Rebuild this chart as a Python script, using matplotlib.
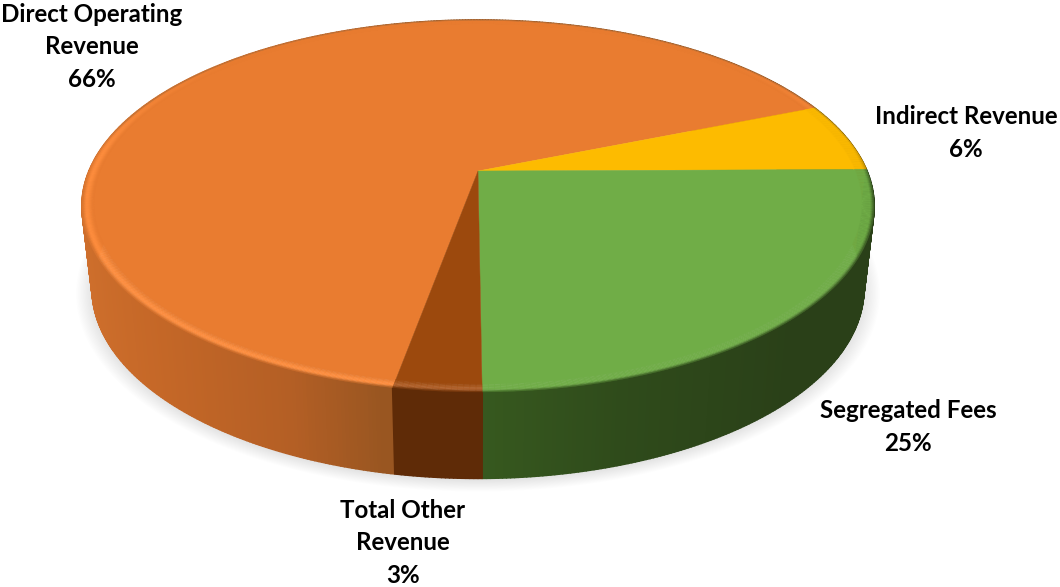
import numpy as np
import matplotlib
matplotlib.use("Agg")
import matplotlib.pyplot as plt
from matplotlib.collections import PolyCollection
from matplotlib.colors import to_rgb

names = ["Direct Operating\nRevenue", "Indirect Revenue", "Segregated Fees", "Total Other\nRevenue"]
shares = [66, 6, 25, 3]
top_colors = ["#E97C30", "#FDBB00", "#70AD47", "#9C490D"]
glow_colors = ["#FF8E3E", "#FDBB00", "#70AD47", "#B05F28"]

# clockwise from north, where the first slice begins
first_angle = 190.3
persp = 0.188
top_disc = dict(a=389.0, b=179.4, cx=478.0, cy=171.0)
low_disc = dict(a=379.0, b=183.0, cx=478.0, cy=253.0)


def project(X, Y, disc):
    w = 1 + persp * Y
    return disc["cx"] + disc["a"] * X / w, disc["cy"] - disc["b"] * Y / w


def circle_pts(theta, r, disc):
    t = np.radians(theta)
    return project(r * np.sin(t), r * np.cos(t), disc)


def mix(c1, c2, f):
    return tuple(np.array(to_rgb(c1)) * (1 - f) + np.array(to_rgb(c2)) * f)


def wall_color(i, X):
    if i == 0:
        stops = ["#D0702D", "#C46727", "#B45F25", "#995621"]
        pos = [-1.0, -0.7, -0.4, -0.2]
    elif i == 2:
        stops = ["#37591F", "#2F4B1B", "#2A4018", "#2A4018"]
        pos = [0.0, 0.3, 0.7, 1.0]
    elif i == 3:
        stops = ["#5F2B07", "#5F2B07"]
        pos = [-1.0, 1.0]
    else:
        stops = ["#8A6500", "#8A6500"]
        pos = [-1.0, 1.0]
    rgb = np.array([to_rgb(c) for c in stops])
    return tuple(np.interp(X, pos, rgb[:, n]) for n in range(3))


fig = plt.figure(figsize=(10.6, 5.87), dpi=100)
ax = fig.add_axes([0, 0, 1, 1])
ax.set_xlim(0, 1060)
ax.set_ylim(587, 0)
ax.axis("off")

# slice limits from the shares
edges = first_angle + np.cumsum([0] + shares) * 3.6

# soft shadow below the disc
ring = np.linspace(0, 360, 361)
for s in np.linspace(1.04, 1.0, 14):
    sx, sy = circle_pts(ring, s, low_disc)
    ax.fill(sx, sy + 2, color="black", alpha=0.007, lw=0, zorder=1)

# side wall, far segments first
quads, quad_cols, quad_depth = [], [], []
for i in range(len(shares)):
    th = np.arange(edges[i], edges[i + 1] + 0.01, 0.5)
    if th[-1] < edges[i + 1]:
        th = np.append(th, edges[i + 1])
    for t0, t1 in zip(th[:-1], th[1:]):
        x0, y0 = circle_pts(t0, 1, top_disc)
        x1, y1 = circle_pts(t1, 1, top_disc)
        x2, y2 = circle_pts(t1, 1, low_disc)
        x3, y3 = circle_pts(t0, 1, low_disc)
        quads.append([(x0, y0), (x1, y1), (x2, y2), (x3, y3)])
        mid = np.radians((t0 + t1) / 2)
        quad_cols.append(wall_color(i, np.sin(mid)))
        quad_depth.append(np.cos(mid))
order = np.argsort(quad_depth)[::-1]
ax.add_collection(PolyCollection([quads[n] for n in order],
                                 facecolors=[quad_cols[n] for n in order],
                                 edgecolors="face", linewidths=1.2, zorder=2))

# flat top of every slice
inner_r = 0.968
for i in range(len(shares)):
    th = np.linspace(edges[i], edges[i + 1], 200)
    px, py = circle_pts(th, inner_r + 0.002, top_disc)
    cx, cy = project(0, 0, top_disc)
    ax.fill(np.r_[cx, px], np.r_[cy, py], color=top_colors[i], lw=0.3, zorder=4)

# bevel round the edge: highlight at the front, dark lip at the outside
radii = np.linspace(inner_r, 1.0, 13)
rim, rim_cols = [], []
for i in range(len(shares)):
    th = np.arange(edges[i], edges[i + 1] + 0.01, 0.75)
    if th[-1] < edges[i + 1]:
        th = np.append(th, edges[i + 1])
    for t0, t1 in zip(th[:-1], th[1:]):
        mid = np.radians((t0 + t1) / 2)
        Y = np.cos(mid)
        front = np.clip((0.7 - Y) / 0.6, 0, 1)
        for r0, r1 in zip(radii[:-1], radii[1:]):
            x0, y0 = circle_pts(t0, r0, top_disc)
            x1, y1 = circle_pts(t1, r0, top_disc)
            x2, y2 = circle_pts(t1, r1, top_disc)
            x3, y3 = circle_pts(t0, r1, top_disc)
            rim.append([(x0, y0), (x1, y1), (x2, y2), (x3, y3)])
            u = ((r0 + r1) / 2 - inner_r) / (1 - inner_r)
            glow = np.sin(np.pi * min(u / 1.3, 1)) ** 3
            col = mix(top_colors[i], glow_colors[i], front * glow)
            lip = np.clip((u - 0.7) / 0.3, 0, 1) ** 1.5
            if Y < 0.15:
                col = mix(col, wall_color(i, np.sin(mid)), lip * np.clip((0.15 - Y) * 4, 0, 1) * 0.8)
            if Y > 0:
                col = mix(col, "#6B5A40", (u > 0.9) * 0.3 * np.clip(Y * 3, 0, 1))
            rim_cols.append(col)
ax.add_collection(PolyCollection(rim, facecolors=rim_cols, edgecolors="face",
                                 linewidths=0.3, zorder=5))

label_style = dict(ha="center", va="center", family=["Lato", "DejaVu Sans"],
                   fontweight="bold", fontsize=17.4, color="black", linespacing=1.49, zorder=6)
ax.text(92, 47, f"{names[0]}\n{shares[0]}%", **label_style)
ax.text(966, 133, f"{names[1]}\n{shares[1]}%", **label_style)
ax.text(908, 427, f"{names[2]}\n{shares[2]}%", **label_style)
ax.text(403, 543, f"{names[3]}\n{shares[3]}%", **label_style)

fig.savefig("out.png", dpi=100)
